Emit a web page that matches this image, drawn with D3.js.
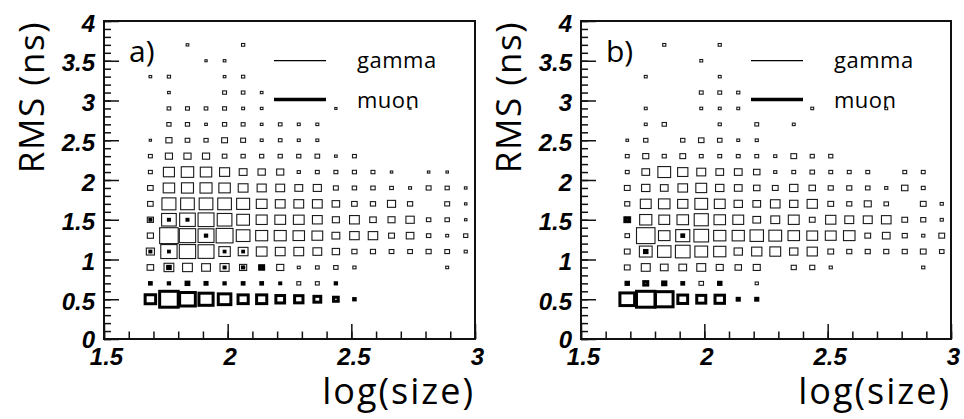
<!DOCTYPE html>
<html><head><meta charset="utf-8">
<script src="https://cdn.jsdelivr.net/npm/d3@7"></script>
<style>
html,body{margin:0;padding:0;background:#fff}svg{display:block}
.tick-label{font-family:"Liberation Sans",Arial,sans-serif;font-weight:700;font-style:italic;font-size:24px;fill:#000}
.title{font-family:"Open Sans","Liberation Sans",sans-serif;font-weight:400;fill:#000}
</style>
</head><body>
<svg id="chart" width="964" height="419"></svg>
<script>
// ---- data ----
const xCenters = [1.6875,1.7625,1.8375,1.9125,1.9875,2.0625,2.1375,2.2125,2.2875,2.3625,2.4375,2.5125,2.5875,2.6625,2.7375,2.8125,2.8875,2.9625];
const yCenters = [3.7,3.5,3.3,3.1,2.9,2.7,2.5,2.3,2.1,1.9,1.7,1.5,1.3,1.1,0.9,0.7,0.5];
const xBinWidth = 0.075, yBinWidth = 0.2;
const xTickValues = [1.5,2,2.5,3];
const xTickLabels = ["1.5","2","2.5","3"];
const yTickValues = [0,0.5,1,1.5,2,2.5,3,3.5,4];
const yTickLabels = ["0","0.5","1","1.5","2","2.5","3","3.5","4"];
const panelLabels = ["a)","b)"];
const legendLabels = ["gamma","muon"];
const xTitle = "log(size)", yTitle = "RMS (ns)";

const gammaA = [
[0,0,2.7,0,0,3.3,0,0,0,0,0,0,0,0,0,0,0,0],
[0,0,0,2.3,2.7,0,0,0,0,0,0,0,0,0,0,0,0,0],
[2.7,3.3,0,0,2.7,3.3,0,0,0,0,0,0,0,0,0,0,0,0],
[0,2.7,0,0,4,3.7,2.7,0,0,0,0,0,0,0,0,0,0,0],
[0,3.7,4,3.7,4,3,2.7,0,0,0,2.3,0,0,0,2,0,0,0],
[0,4.3,4.3,2.7,4.3,4,2.7,3.7,3,3,0,0,0,0,0,0,0,0],
[2.3,6.3,4.7,4.3,6,5,3,3.7,3,3,0,0,0,0,0,0,0,0],
[4,7.3,7.3,7.3,4.7,4.3,4.3,4.3,4.3,4.7,2.7,4,0,0,0,0,0,0],
[4,11.3,12.7,11.7,10.3,8,7.5,7.3,3.3,4,4,4.2,4,2.5,0,2.5,2.5,0],
[5.7,11.7,12.3,12.3,11.7,10,9.3,9,8,8.3,5,4.5,4.5,3.8,3,5,4.3,2.7],
[5.7,14.3,14,14,14,13.3,11,10,10,10,7.7,5.7,5.3,8.3,5.3,0,5,2.5],
[6.3,15,16,16.3,15,13,11.3,11,11,10,7.2,10,6.7,7.2,8.5,4.5,4.5,2.5],
[6.3,19,16.7,16.3,17.3,14,12.3,12.3,11.7,11,8,9.7,9.7,6,7.8,4.5,3,4.3],
[8.3,16.7,16.7,16.3,11.7,10,11,10,10,9,7.5,5.3,5.2,4.8,4.8,5.2,4.8,3.2],
[6.7,10,10,9,9.3,7.3,6,7.3,3,3.8,4.5,3.3,0,0,0,0,3,0],
[0,0,0,0,0,0,0,0,4,4,0,0,0,0,0,0,0,0],
[0,0,0,0,0,0,0,0,0,0,0,0,0,0,0,0,0,0]
];
const muonA = [
[0,0,0,0,0,0,0,0,0,0,0,0,0,0,0,0,0,0],
[0,0,0,0,0,0,0,0,0,0,0,0,0,0,0,0,0,0],
[0,0,0,0,0,0,0,0,0,0,0,0,0,0,0,0,0,0],
[0,0,0,0,0,0,0,0,0,0,0,0,0,0,0,0,0,0],
[0,0,0,0,0,0,0,0,0,0,0,0,0,0,0,0,0,0],
[0,0,0,0,0,0,0,0,0,0,0,0,0,0,0,0,0,0],
[0,0,0,0,0,0,0,0,0,0,0,0,0,0,0,0,0,0],
[0,0,0,0,0,0,0,0,0,0,0,0,0,0,0,0,0,0],
[0,0,0,0,0,0,0,0,0,0,0,0,0,0,0,0,0,0],
[0,0,0,0,0,0,0,0,0,0,0,0,0,0,0,0,0,0],
[0,0,0,0,0,0,0,0,0,0,0,0,0,0,0,0,0,0],
[1,1,1,0,0,0,0,0,0,0,0,0,0,0,0,0,0,0],
[0,0,0,1.3,0,0,0,0,0,0,0,0,0,0,0,0,0,0],
[1,0.8,0,0,0.8,0.8,0,0,0,0,0,0,0,0,0,0,0,0],
[0,2.5,0,0,1,1.2,3.5,0,0,0,0,0,0,0,0,0,0,0],
[1.7,1.3,2.7,2,1.3,1.7,1.7,1,0,0,1.3,0,0,0,0,0,0,0],
[10,17.7,15,13.5,12,9.7,9.7,8.3,8,6.5,4.5,1.5,0,0,0,0,0,0]
];
const gammaB = [
[0,0,3.3,0,0,3.3,0,0,0,0,0,0,0,0,0,0,0,0],
[0,0,0,0,3,0,0,0,0,0,0,0,0,0,0,0,0,0],
[0,3,0,0,0,3,0,0,0,0,0,0,0,0,0,0,0,0],
[0,0,0,0,4,4,3.3,0,0,0,0,0,0,0,0,0,0,0],
[0,3,0,0,3,3,3,0,0,0,3,0,0,0,3,0,0,0],
[0,3,4.5,0,0,3.3,0,4,0,3,0,0,0,0,0,0,0,0],
[2.7,4.5,0,4.5,5.7,4.7,3,3.2,0,0,0,0,0,0,0,0,0,0],
[4,6.3,4.3,6,4,4,4,4,3.3,6,4.3,4.3,0,0,0,0,0,0],
[4,8,13.3,10.7,9.3,8,8,6.7,3.3,4,4.7,4,4,4,0,4,4,0],
[6,8.7,8,10,11.3,8.7,8,6.7,6,8.7,6.7,5.3,5.3,4.7,3.3,6.7,4,0],
[5.3,11.3,12,10.7,13.3,11.3,8.7,8,10,8.7,10.7,6,5.3,7.3,4.7,0,6,3.3],
[7,12.7,11.3,12,14.7,12,11.3,8,9.3,11.3,6,10.7,9.3,9.3,10,6,5.3,3.3],
[4.7,19.3,12,14.7,15.3,12.7,12.7,14,13.3,12,11.3,11.3,12,6,8,5.3,3.3,6],
[6,13.3,14,15.3,13.3,12.7,8.7,10.7,11.3,8.7,10.7,6,5.3,5.3,5.3,5.3,6,4.7],
[6,9.3,8,8,9.3,7.3,6.7,7.3,0,5.3,5.3,3.3,0,0,0,0,3.3,0],
[0,0,0,0,4.7,0,0,3.3,0,0,0,0,0,0,0,0,0,0],
[0,0,0,0,0,0,0,0,0,0,0,0,0,0,0,0,0,0]
];
const muonB = [
[0,0,0,0,0,0,0,0,0,0,0,0,0,0,0,0,0,0],
[0,0,0,0,0,0,0,0,0,0,0,0,0,0,0,0,0,0],
[0,0,0,0,0,0,0,0,0,0,0,0,0,0,0,0,0,0],
[0,0,0,0,0,0,0,0,0,0,0,0,0,0,0,0,0,0],
[0,0,0,0,0,0,0,0,0,0,0,0,0,0,0,0,0,0],
[0,0,0,0,0,0,0,0,0,0,0,0,0,0,0,0,0,0],
[0,0,0,0,0,0,0,0,0,0,0,0,0,0,0,0,0,0],
[0,0,0,0,0,0,0,0,0,0,0,0,0,0,0,0,0,0],
[0,0,0,0,0,0,0,0,0,0,0,0,0,0,0,0,0,0],
[0,0,0,0,0,0,0,0,0,0,0,0,0,0,0,0,0,0],
[0,0,0,0,0,0,0,0,0,0,0,0,0,0,0,0,0,0],
[3.5,0,0,0,0,0,0,0,0,0,0,0,0,0,0,0,0,0],
[0,0,0,1.7,0,0,0,0,0,0,0,0,0,0,0,0,0,0],
[0,2.3,0,0,0,0,0,0,0,0,0,0,0,0,0,0,0,0],
[0,0,0,0,0,0,0,0,0,0,0,0,0,0,0,0,0,0],
[2.3,3.7,3,1.7,0,2.3,0,0,0,0,0,0,0,0,0,0,0,0],
[13.5,17,16.2,9,8.3,8.7,2,2,0,0,0,0,0,0,0,0,0,0]
];

// ---- layout ----
const svg = d3.select("#chart");
const plotTop = 21, plotBottom = 339;
const panels = [
  {label: panelLabels[0], gamma: gammaA, muon: muonA, left: 104, right: 475},
  {label: panelLabels[1], gamma: gammaB, muon: muonB, left: 581, right: 951}
];

function cells(grid) {
  return grid.flatMap((row, i) => row.map((v, j) => ({x: xCenters[j], y: yCenters[i], v}))).filter(d => d.v > 0);
}

panels.forEach(p => {
  const x = d3.scaleLinear().domain([1.5, 3]).range([p.left, p.right]);
  const y = d3.scaleLinear().domain([0, 4]).range([plotBottom, plotTop]);
  const g = svg.append("g");
  const bw = x(1.5 + xBinWidth) - x(1.5);
  const bh = y(0) - y(yBinWidth);

  const drawBoxes = (grid, sw, color) => {
    const maxV = d3.max(grid.flat());
    const s = d3.scaleLinear().domain([0, maxV]).range([0, 1]);
    g.append("g").selectAll("rect").data(cells(grid)).join("rect")
      .attr("x", d => x(d.x) - bw * s(d.v) / 2)
      .attr("y", d => y(d.y) - bh * s(d.v) / 2)
      .attr("width", d => bw * s(d.v))
      .attr("height", d => bh * s(d.v))
      .attr("fill", "none").attr("stroke", color).attr("stroke-width", sw);
  };
  drawBoxes(p.gamma, 1.1, "#1a1a1a");
  drawBoxes(p.muon, 3, "#000");

  g.append("rect").attr("x", p.left).attr("y", plotTop)
    .attr("width", p.right - p.left).attr("height", plotBottom - plotTop)
    .attr("fill", "none").attr("stroke", "#111").attr("stroke-width", 2);

  const xMinor = g.append("g").attr("transform", `translate(0,${plotBottom})`)
    .call(d3.axisBottom(x).tickValues(d3.range(15, 31).map(v => v / 10)).tickSize(-7.5).tickFormat(""));
  const xMajor = g.append("g").attr("transform", `translate(0,${plotBottom})`)
    .call(d3.axisBottom(x).tickValues(xTickValues).tickSize(-15).tickFormat((d, i) => xTickLabels[i]));
  [xMinor, xMajor].forEach(a => { a.select(".domain").remove(); a.selectAll("line").attr("stroke", "#111").attr("stroke-width", 1.5); a.attr("font-family", null).attr("font-size", null); });
  xMajor.selectAll("text").attr("class", "tick-label").attr("dy", null).attr("y", 26).attr("x", 2).attr("fill", null);

  const yMinor = g.append("g").attr("transform", `translate(${p.left},0)`)
    .call(d3.axisLeft(y).tickValues(d3.range(0, 41).map(v => v / 10)).tickSize(-7).tickFormat(""));
  const yMajor = g.append("g").attr("transform", `translate(${p.left},0)`)
    .call(d3.axisLeft(y).tickValues(yTickValues).tickSize(-15).tickFormat((d, i) => yTickLabels[i]));
  [yMinor, yMajor].forEach(a => { a.select(".domain").remove(); a.selectAll("line").attr("stroke", "#111").attr("stroke-width", 1.5); a.attr("font-family", null).attr("font-size", null); });
  yMajor.selectAll("text").attr("class", "tick-label").attr("dy", null).attr("x", -9).attr("y", d => d === 0 ? 8 : 10).attr("fill", null);

  g.append("text").attr("class", "title").attr("x", p.right).attr("y", 404).attr("text-anchor", "end")
    .style("font-size", "36px").style("letter-spacing", "2px").text(xTitle);
  g.append("text").attr("class", "title").attr("transform", `translate(${p.left - 60},21) rotate(-90)`).attr("text-anchor", "end")
    .style("font-size", "35px").style("letter-spacing", "1.5px").text(yTitle);

  g.append("text").attr("class", "title").attr("x", p.left + 25).attr("y", 62)
    .style("font-size", "30px").text(p.label);

  const leg = [{label: legendLabels[0], sw: 1.2, ly: 60.7, ty: 68}, {label: legendLabels[1], sw: 3.5, ly: 99.5, ty: 108}];
  leg.forEach(l => {
    g.append("line").attr("x1", p.left + 170).attr("x2", p.left + 222).attr("y1", l.ly).attr("y2", l.ly)
      .attr("stroke", "#000").attr("stroke-width", l.sw);
    g.append("text").attr("class", "title").attr("x", p.left + 253).attr("y", l.ty)
      .style("font-size", "22px").style("letter-spacing", "0.5px").text(l.label);
  });
});
</script>
</body></html>
